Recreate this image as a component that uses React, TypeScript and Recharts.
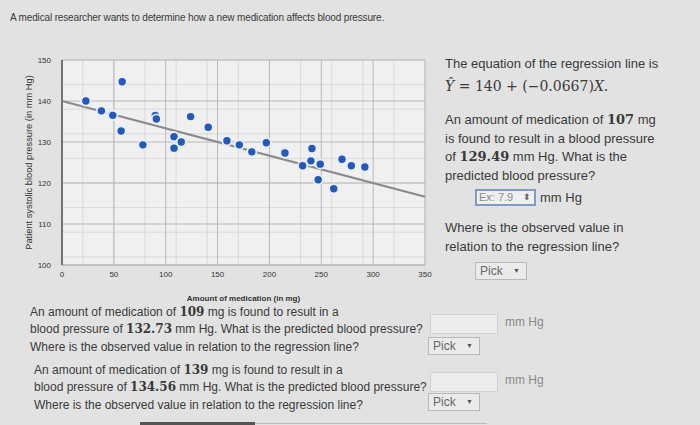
import React from 'react';
import { ScatterChart, Scatter, XAxis, YAxis, CartesianGrid } from 'recharts';

// Data
const medicationMg = [23, 58, 38, 48, 49, 57, 78, 90, 91, 108, 108, 115, 124, 141, 159, 171, 183, 197, 214, 215, 241, 240, 232, 249, 247, 262, 270, 279, 292];
const pressureMmHg = [140.0, 144.7, 137.6, 136.7, 136.5, 132.7, 129.3, 136.5, 135.6, 131.3, 128.5, 130.0, 136.2, 133.6, 130.3, 129.3, 127.6, 129.8, 127.5, 127.3, 128.4, 125.4, 124.2, 124.6, 120.8, 118.6, 125.8, 124.2, 123.9];

const intercept = 140;
const slope = -0.0667;
const xDomain = [0, 350];
const yDomain = [100, 150];

const xTicks = [0, 50, 100, 150, 200, 250, 300, 350];
const yTicks = [100, 110, 120, 130, 140, 150];
const xMinorTicks = Array.from({ length: 36 }, (_, i) => i * 10);
const yMinorTicks = Array.from({ length: 26 }, (_, i) => 100 + i * 2);

const points = medicationMg.map((x, i) => ({ x, y: pressureMmHg[i] }));
const regression = xDomain.map((x) => ({ x, y: intercept + slope * x }));

const FONT = '"Liberation Sans", Arial, Helvetica, sans-serif';
const SERIF = '"DejaVu Serif", "Liberation Serif", serif';
const TEXT = '#3a3a3a';

const Dot = (props: any) => {
  const { cx, cy } = props;
  if (cx == null || cy == null) return null;
  return (
    <g>
      <circle cx={cx} cy={cy} r={5.6} fill="#e8f0fb" opacity={0.9} />
      <circle cx={cx} cy={cy} r={3.7} fill="#2459b9" />
    </g>
  );
};

const NoDot = () => null;

const abs = (left: number, top: number, extra: React.CSSProperties = {}): React.CSSProperties => ({
  position: 'absolute',
  left,
  top,
  whiteSpace: 'nowrap',
  ...extra,
});

const B = ({ children }: { children: React.ReactNode }) => (
  <b style={{ fontFamily: SERIF, fontWeight: 700 }}>{children}</b>
);

const PickBox = ({ left, top }: { left: number; top: number }) => (
  <div
    style={abs(left, top, {
      width: 52,
      height: 18,
      border: '1px solid #b9b9b9',
      background: '#eaeaea',
      boxSizing: 'border-box',
      fontSize: 12,
      color: '#666',
      lineHeight: '16px',
      paddingLeft: 4,
    })}
  >
    Pick
    <span style={{ position: 'absolute', right: 6, top: 0, fontSize: 7, color: '#555' }}>▼</span>
  </div>
);

const InputBox = ({ left, top }: { left: number; top: number }) => (
  <div
    style={abs(left, top, {
      width: 68,
      height: 20,
      border: '1px solid #d2d2d2',
      background: '#ececec',
      boxSizing: 'border-box',
    })}
  />
);

export default function App() {
  return (
    <div
      style={{
        position: 'absolute',
        left: 0,
        top: 0,
        width: 700,
        height: 425,
        background: '#e2e2e2',
        fontFamily: FONT,
        color: TEXT,
        overflow: 'hidden',
      }}
    >
      <div style={abs(10, 12, { fontSize: 10, letterSpacing: -0.15 })}>
        A medical researcher wants to determine how a new medication affects blood pressure.
      </div>

      <div style={abs(0, 40)}>
        <ScatterChart width={440} height={270} margin={{ top: 20, right: 15, bottom: 15, left: 22 }}>
          <CartesianGrid
            verticalValues={xMinorTicks}
            horizontalValues={yMinorTicks}
            stroke="#d4d4d4"
            strokeWidth={0.8}
            fill="#f0f0f0"
          />
          <CartesianGrid stroke="#b8b8b8" strokeWidth={1} />
          <XAxis
            type="number"
            dataKey="x"
            domain={xDomain}
            ticks={xTicks}
            tickLine={false}
            axisLine={{ stroke: '#b0b0b0' }}
            tick={{ fontSize: 8, fill: '#333', fontFamily: FONT }}
            height={30}
            tickMargin={0}
            label={{
              value: 'Amount of medication (in mg)',
              position: 'insideBottom',
              offset: -6,
              style: { fontSize: 8, fontWeight: 700, fill: '#333', fontFamily: FONT },
            }}
          />
          <YAxis
            type="number"
            dataKey="y"
            domain={yDomain}
            ticks={yTicks}
            tickLine={false}
            axisLine={{ stroke: '#555', strokeWidth: 1.5 }}
            tick={{ fontSize: 8, fill: '#333', fontFamily: FONT }}
            width={40}
            tickMargin={5}
            label={{
              value: 'Patient systolic blood pressure (in mm Hg)',
              angle: -90,
              position: 'center',
              dx: -13,
              style: { fontSize: 9.3, fill: '#333', fontFamily: FONT, textAnchor: 'middle' },
            }}
          />
          <Scatter
            data={regression}
            line={{ stroke: '#8a8a8a', strokeWidth: 2 }}
            shape={NoDot}
            isAnimationActive={false}
          />
          <Scatter data={points} shape={Dot} isAnimationActive={false} />
        </ScatterChart>
      </div>

      {/* Right panel */}
      <div style={{ position: 'absolute', left: 445, top: 55, fontSize: 13, lineHeight: '18.5px' }}>
        <div>The equation of the regression line is</div>
        <div style={{ fontFamily: SERIF, fontSize: 14, marginTop: 3 }}>
          <i>Ŷ</i> = 140 + (−0.0667)<i>X</i>.
        </div>
      </div>
      <div style={{ position: 'absolute', left: 445, top: 111, fontSize: 13, lineHeight: '18.5px' }}>
        <div>
          An amount of medication of <B>107</B> mg
        </div>
        <div>is found to result in a blood pressure</div>
        <div>
          of <B>129.49</B> mm Hg. What is the
        </div>
        <div>predicted blood pressure?</div>
      </div>
      <div
        style={abs(475, 189, {
          width: 61,
          height: 17,
          border: '2px solid #7f9cc6',
          background: '#efefef',
          boxSizing: 'border-box',
          fontSize: 11,
          color: '#8a8a8a',
          lineHeight: '13px',
          paddingLeft: 2,
        })}
      >
        Ex: 7.9
        <span style={{ position: 'absolute', right: 3, top: 0, fontSize: 9, color: '#666' }}>⬍</span>
      </div>
      <div style={abs(540, 189, { fontSize: 13, lineHeight: '17px' })}>mm Hg</div>
      <div style={{ position: 'absolute', left: 445, top: 219, fontSize: 13, lineHeight: '18.5px' }}>
        <div>Where is the observed value in</div>
        <div>relation to the regression line?</div>
      </div>
      <PickBox left={475} top={262} />

      {/* Bottom questions */}
      <div style={{ position: 'absolute', left: 30, top: 304, fontSize: 12, lineHeight: '17.3px' }}>
        <div>
          An amount of medication of <B>109</B> mg is found to result in a
        </div>
        <div>
          blood pressure of <B>132.73</B> mm Hg. What is the predicted blood pressure?
        </div>
        <div>Where is the observed value in relation to the regression line?</div>
      </div>
      <InputBox left={430} top={314} />
      <div style={abs(505, 315, { fontSize: 12, color: '#8a8a8a' })}>mm Hg</div>
      <PickBox left={428} top={337} />

      <div style={{ position: 'absolute', left: 34, top: 362, fontSize: 12, lineHeight: '17.3px' }}>
        <div>
          An amount of medication of <B>139</B> mg is found to result in a
        </div>
        <div>
          blood pressure of <B>134.56</B> mm Hg. What is the predicted blood pressure?
        </div>
        <div>Where is the observed value in relation to the regression line?</div>
      </div>
      <InputBox left={430} top={372} />
      <div style={abs(505, 373, { fontSize: 12, color: '#8a8a8a' })}>mm Hg</div>
      <PickBox left={428} top={393} />

      <div style={abs(140, 422, { width: 115, height: 3, background: '#555' })} />
      <div style={abs(255, 423, { width: 232, height: 1, background: '#bbb' })} />
    </div>
  );
}
